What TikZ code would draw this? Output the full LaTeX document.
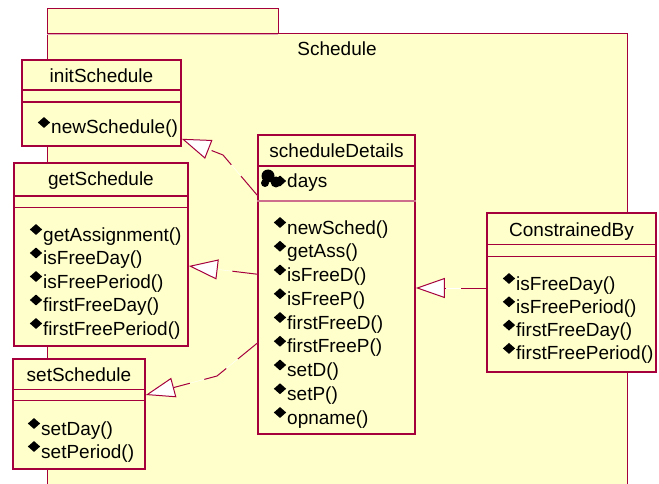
\documentclass[tikz,border=0pt]{standalone}
\usepackage{fontspec}
\setmainfont{Liberation Sans}
\usetikzlibrary{arrows.meta, shapes.geometric}

\definecolor{umlfill}{RGB}{255,255,204}
\definecolor{umlline}{RGB}{165,0,60}
\definecolor{umlsep}{RGB}{205,110,140}

\begin{document}
\begin{tikzpicture}[x=1pt, y=-1pt, font=\fontsize{19}{23}\selectfont]
    \tikzset{
        class/.style={draw=umlline, fill=umlfill, line width=1.6pt, inner sep=0pt},
        sep/.style={draw=umlline, line width=1.4pt},
        title/.style={anchor=base, inner sep=0pt},
        op/.style={anchor=base west, inner sep=0pt},
        dia/.style={diamond, fill=black, inner sep=0pt, minimum width=12.5pt, minimum height=11pt},
        realize/.style={draw=umlline, line width=1pt, dash pattern=on 25pt off 15pt,
            -{Triangle[length=29pt, width=20pt, fill=white]},
            preaction={draw=white, solid}}
    }
    \useasboundingbox (0,0) rectangle (659,484);

    % PACKAGE
    \filldraw[fill=umlfill, draw=umlline, line width=1pt] (47,9) rectangle (278,34);
    \fill[umlfill] (47,34) rectangle (627,484);
    \draw[umlline, line width=1pt] (47,484) -- (47,34) (278,34) -- (627,34) -- (627,484);
    \draw[umlsep!60, line width=0.8pt] (47,34) -- (278,34);
    \node[title] (pkg) at (337,56) {Schedule};

    % CLASSES
    \node[class, minimum width=159pt, minimum height=86pt] (init) at (101.5,103) {};
    \node[class, minimum width=174pt, minimum height=183pt] (get) at (101,254.5) {};
    \node[class, minimum width=132pt, minimum height=110pt] (set) at (79,414) {};
    \node[class, minimum width=157pt, minimum height=299pt] (det) at (336.5,284.5) {};
    \node[class, minimum width=169pt, minimum height=159pt] (con) at (571.5,292.5) {};

    \node[title] (init-name) at ([yshift=-23.5pt]init.north) {initSchedule};
    \node[title] (get-name) at ([yshift=-23.5pt]get.north) {getSchedule};
    \node[title] (set-name) at ([yshift=-23.5pt]set.north) {setSchedule};
    \node[title] (det-name) at ([yshift=-23.5pt]det.north) {scheduleDetails};
    \node[title] (con-name) at ([yshift=-24.5pt]con.north) {ConstrainedBy};

    % compartments
    \draw[sep] ([yshift=-31pt]init.north west) -- ([yshift=-31pt]init.north east);
    \draw[sep] ([yshift=-43pt]init.north west) -- ([yshift=-43pt]init.north east);
    \draw[sep] ([yshift=-34pt]get.north west) -- ([yshift=-34pt]get.north east);
    \draw[sep] ([yshift=-45pt]get.north west) -- ([yshift=-45pt]get.north east);
    \draw[sep] ([yshift=-31pt]set.north west) -- ([yshift=-31pt]set.north east);
    \draw[sep] ([yshift=-42pt]set.north west) -- ([yshift=-42pt]set.north east);
    \draw[sep] ([yshift=-32pt]det.north west) -- ([yshift=-32pt]det.north east);
    \draw[sep, umlsep] ([yshift=-67pt]det.north west) -- ([yshift=-67pt]det.north east);
    \draw[sep] ([yshift=-32pt]con.north west) -- ([yshift=-32pt]con.north east);
    \draw[sep] ([yshift=-44pt]con.north west) -- ([yshift=-44pt]con.north east);

    % attribute of scheduleDetails
    \fill (268,176) circle (6.5);
    \fill (276,182) circle (5.5);
    \fill (265,183) circle (4);
    \node[dia] (det-a0) at (280,181) {};
    \node[op] (det-attr) at (287,187) {days};

    % OPERATIONS
    \node[dia] (init-d0) at (44,122.5) {};
    \node[op] (init-m0) at (51,134) {newSchedule()};

    \foreach \m [count=\i from 0] in {getAssignment(), isFreeDay(), isFreePeriod(), firstFreeDay(), firstFreePeriod()} {
        \node[dia] (get-d\i) at (36,229.5+23.5*\i) {};
        \node[op] (get-m\i) at (43,241+23.5*\i) {\m};
    }
    \foreach \m [count=\i from 0] in {setDay(), setPeriod()} {
        \node[dia] (set-d\i) at (34,423.5+23*\i) {};
        \node[op] (set-m\i) at (41,435+23*\i) {\m};
    }
    \foreach \m [count=\i from 0] in {newSched(), getAss(), isFreeD(), isFreeP(), firstFreeD(), firstFreeP(), setD(), setP(), opname()} {
        \node[dia] (det-d\i) at (280,222.5+23.75*\i) {};
        \node[op] (det-m\i) at (287,234+23.75*\i) {\m};
    }
    \foreach \m [count=\i from 0] in {isFreeDay(), isFreePeriod(), firstFreeDay(), firstFreePeriod()} {
        \node[dia] (con-d\i) at (509,278.5+23.3*\i) {};
        \node[op] (con-m\i) at (516,290+23.3*\i) {\m};
    }

    % REALIZATIONS
    \coordinate (k1) at (223,155);
    \coordinate (k3) at (217,376);
    \draw[realize] ([yshift=-61pt]det.north west) -- (k1) -- ([yshift=8pt]init.south east);
    \draw[realize] ([yshift=-140pt]det.north west) -- ([yshift=-11.5pt]get.east);
    \draw[realize] ([yshift=-209pt]det.north west) -- (k3) -- ([yshift=19pt]set.east);
    \draw[realize] ([yshift=4.5pt]con.west) -- ([yshift=-3.5pt]det.east);
\end{tikzpicture}
\end{document}
